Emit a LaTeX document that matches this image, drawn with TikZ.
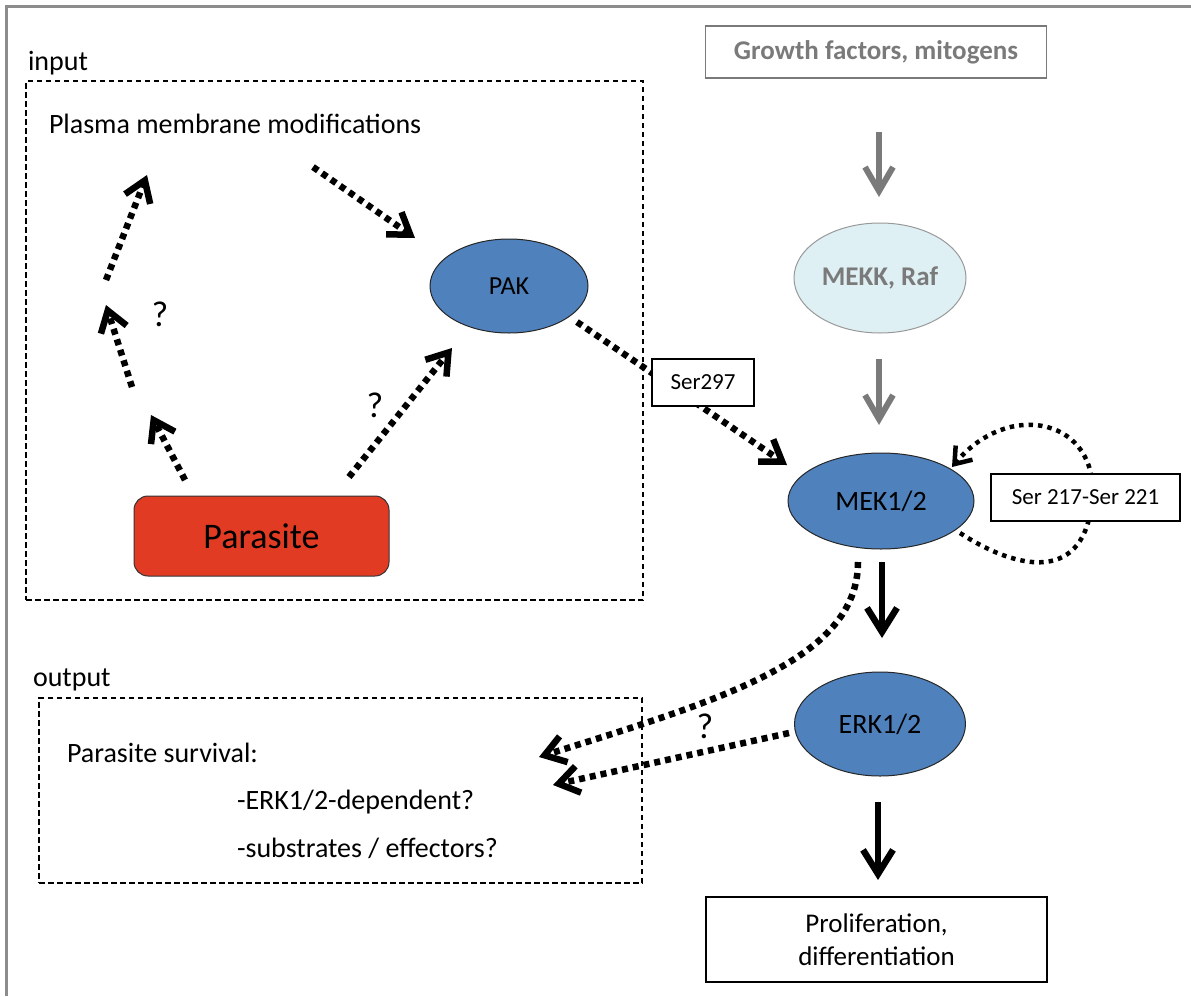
\documentclass[tikz,border=0pt]{standalone}
\usepackage{fontspec}
\setmainfont{Carlito}
\usetikzlibrary{arrows.meta,shapes.geometric}
\definecolor{nodeblue}{HTML}{4F81BD}
\definecolor{parared}{HTML}{E23B24}
\definecolor{lightcyan}{HTML}{DEF0F4}
\definecolor{frameGray}{HTML}{8C8C8C}
\definecolor{txtgray}{HTML}{7A7A7A}
\begin{document}
\begin{tikzpicture}[x=1pt,y=-1pt,
  every node/.style={inner sep=0pt, outer sep=0pt},
  dbox/.style={draw, line width=1.3pt, dash pattern=on 5.5pt off 3.5pt},
  blueell/.style={ellipse, draw=black!85, line width=1pt, fill=nodeblue, font=\fontsize{28}{33}\selectfont},
  txt/.style={font=\fontsize{28}{33}\selectfont},
  qmark/.style={font=\fontsize{36}{40}\selectfont},
  plainbox/.style={draw, line width=1.2pt, fill=white, align=center},
  dotarrow/.style={line width=6.5pt, dash pattern=on 6pt off 5pt,
    -{Straight Barb[length=20pt,width=27pt,line width=6.5pt]}},
  thinloop/.style={line width=4.5pt, dash pattern=on 4.5pt off 5pt,
    -{Straight Barb[length=15pt,width=22pt,line width=4.5pt]}},
  grayarrow/.style={draw=txtgray, line width=5.5pt,
    -{Straight Barb[length=24pt,width=28pt,line width=6pt]}},
  blackarrow/.style={draw=black, line width=6pt,
    -{Straight Barb[length=24pt,width=30pt,line width=6.5pt]}}
]
\useasboundingbox (0,0) rectangle (1191,996);
% outer frame
\draw[frameGray, line width=3pt] (6,996) -- (6,6) -- (1191,6);

% input region
\node[txt, anchor=base west] (inlbl) at (28,70) {input};
\node[dbox, minimum width=617pt, minimum height=519pt] (inbox) at (334.5,340.5) {};
\node[txt, anchor=base west] (membrane) at (49,133) {Plasma membrane modifications};
\node[blueell, minimum width=158pt, minimum height=94pt, font=\fontsize{26}{30}\selectfont] (pak) at (509,286) {PAK};
\node[draw=black!80, line width=1pt, fill=parared, rounded corners=14pt,
      minimum width=255pt, minimum height=80pt, font=\fontsize{36}{40}\selectfont] (parasite) at (261.5,536) {Parasite};
\node[qmark] (q1) at (160,314) {?};
\node[qmark] (q2) at (375,405) {?};

% right cascade
\node[draw=txtgray, line width=1.3pt, minimum width=341pt, minimum height=52pt,
      text=txtgray, font=\fontsize{27}{32}\selectfont\bfseries] (growth) at (876,52) {Growth factors, mitogens};
\node[ellipse, draw=black!40, line width=1pt, fill=lightcyan, minimum width=172pt, minimum height=110pt,
      text=txtgray, font=\fontsize{27}{32}\selectfont\bfseries] (mekk) at (880,278) {MEKK, Raf};
\node[blueell, minimum width=186pt, minimum height=96pt] (mek) at (881,501) {MEK1/2};
\node[blueell, minimum width=171pt, minimum height=104pt] (erk) at (880,724) {ERK1/2};

% output region
\node[txt, anchor=base west] (outlbl) at (33,686) {output};
\node[dbox, minimum width=603pt, minimum height=185pt] (outbox) at (340.5,790.5) {};
\node[txt, anchor=west] (surv) at (67,753) {Parasite survival:};
\node[txt, anchor=west] (dep) at (237,802) {-ERK1/2-dependent?};
\node[txt, anchor=west] (subs) at (237,848) {-substrates / effectors?};
\node[qmark] (q3) at (705,726) {?};

% coordinates of free connector ends
\coordinate (a1s) at (313,167); \coordinate (a1e) at (415,238);
\coordinate (a2s) at (106,280); \coordinate (a2e) at (147,175);
\coordinate (a3s) at (132,387); \coordinate (a3e) at (106,305);
\coordinate (a4s) at (185,480); \coordinate (a4e) at (151,415);
\coordinate (a5s) at (349,477); \coordinate (a5e) at (452,348);
\coordinate (a6s) at (577,322); \coordinate (a6e) at (787,465);
\coordinate (g1s) at (879,132); \coordinate (g1e) at (879,197);
\coordinate (g2s) at (879,359); \coordinate (g2e) at (879,425);
\coordinate (b1s) at (882,562); \coordinate (b1e) at (882,638);
\coordinate (b2s) at (878,802); \coordinate (b2e) at (878,880);
\coordinate (ls) at (960,533); \coordinate (lm) at (1092,500); \coordinate (le) at (952,467);
\coordinate (c1s) at (858,562); \coordinate (c1e) at (539,757);
\coordinate (c2s) at (789,733); \coordinate (c2e) at (553,785);

% dotted arrows in input
\draw[dotarrow] (a1s) -- (a1e);
\draw[dotarrow] (a2s) -- (a2e);
\draw[dotarrow] (a3s) -- (a3e);
\draw[dotarrow] (a4s) -- (a4e);
\draw[dotarrow] (a5s) -- (a5e);
\draw[dotarrow] (a6s) -- (a6e);

% cascade arrows
\draw[grayarrow] (g1s) -- (g1e);
\draw[grayarrow] (g2s) -- (g2e);
\draw[blackarrow] (b1s) -- (b1e);
\draw[blackarrow] (b2s) -- (b2e);

% self loop on MEK
\draw[thinloop] (ls) .. controls (1020,572) and (1085,582) .. (lm) .. controls (1100,420) and (1010,398) .. (le);

% arrows to output
\draw[dotarrow] (c1s) .. controls (858,660) and (720,700) .. (c1e);
\draw[dotarrow] (c2s) -- (c2e);

% label boxes on top
\node[plainbox, minimum width=102pt, minimum height=47pt, font=\fontsize{23}{27}\selectfont] (ser297) at (703,382.5) {Ser297};
\node[plainbox, minimum width=189pt, minimum height=47pt, font=\fontsize{23}{27}\selectfont] (ser217) at (1085.5,497.5) {Ser 217-Ser 221};
\node[plainbox, minimum width=341pt, minimum height=85pt, font=\fontsize{27}{33}\selectfont] (prolif) at (876.5,939.5) {Proliferation,\\differentiation};
\end{tikzpicture}
\end{document}
